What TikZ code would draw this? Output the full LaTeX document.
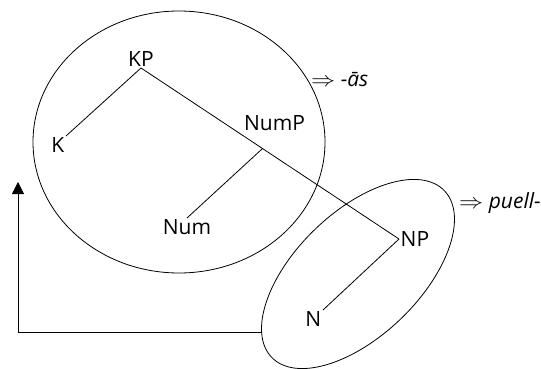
\RequirePackage{fix-cm}
\documentclass[tikz,border=0pt]{standalone}
\usepackage{fontspec}
\setmainfont{Open Sans}
\usetikzlibrary{shapes.geometric,arrows.meta,positioning,calc}
\tikzset{
  lbl/.style={inner sep=1.5pt,font=\fontsize{21}{25}\selectfont},
  suf/.style={inner sep=0pt,anchor=west,font=\fontsize{21}{25}\selectfont},
  blob/.style={ellipse,draw,line width=0.8pt,inner sep=0pt},
  branch/.style={line width=0.8pt},
  back/.style={-{Triangle[length=12pt,width=12pt]},line width=0.8pt},
}

\begin{document}
\begin{tikzpicture}[x=1pt,y=-1pt]
  \useasboundingbox (0,0) rectangle (541,369);

  \node[blob,minimum width=292pt,minimum height=262pt] (kblob) at (179,142) {};
  \node[blob,minimum width=240pt,minimum height=124pt,rotate=44] (nblob) at (358,274) {};

  \node[lbl,anchor=south] (KP) at (141,68) {KP};
  \node[lbl,anchor=north east] (K) at (66,136) {K};
  \node[lbl,anchor=west] (NP) at (399,239) {NP};
  \node[lbl,anchor=north east] (N) at (323,310) {N};
  \coordinate (fork) at ($(KP.south)!0.471!(NP.west)$);
  \node[lbl] (NumP) at ($(fork)+(12,-25)$) {NumP};
  \node[lbl,anchor=north] (Num) at (187,218) {Num};

  \draw[branch] (KP.south) -- (K.north east);
  \draw[branch] (KP.south) -- (fork) -- (NP.west);
  \draw[branch] (fork) -- (Num.north);
  \draw[branch] (NP.west) -- (N.north east);

  \node[suf] (sufA) at (311,80) {\scalebox{1.15}[1]{$\Rightarrow$} \textit{-ās}};
  \node[suf] (sufB) at (459,203) {\scalebox{1.15}[1]{$\Rightarrow$} \textit{puell-}};

  \coordinate (src) at (262,332);
  \coordinate (tip) at (18,182);
  \draw[back] (src) -| (tip);
\end{tikzpicture}
\end{document}
